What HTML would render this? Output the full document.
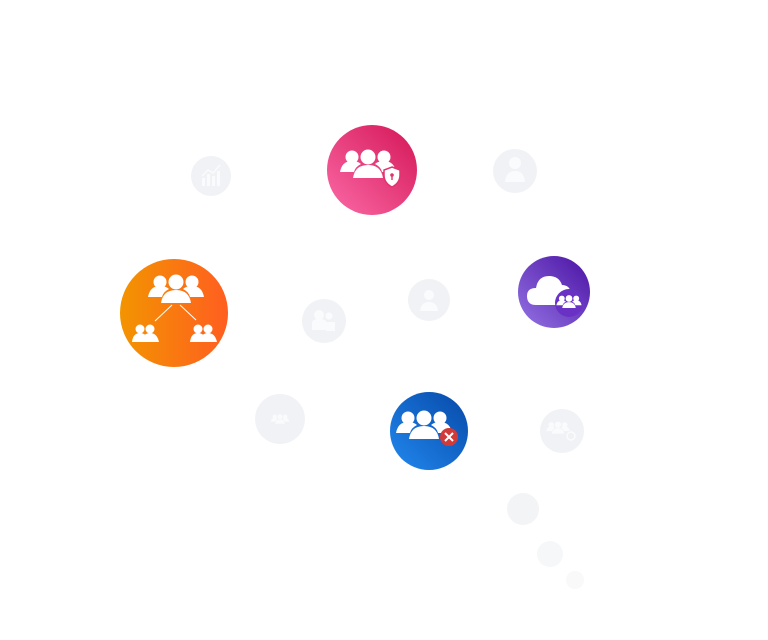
<!DOCTYPE html>
<html><head><meta charset="utf-8"><style>
html,body{margin:0;padding:0;background:#fff;width:768px;height:640px;overflow:hidden}
</style></head><body>
<svg width="768" height="640" viewBox="0 0 768 640" xmlns="http://www.w3.org/2000/svg">
<defs>
<linearGradient id="pk" x1="0" y1="1" x2="1" y2="0"><stop offset="0" stop-color="#fb6aa6"/><stop offset="1" stop-color="#d41657"/></linearGradient>
<linearGradient id="or" x1="0" y1="0.5" x2="1" y2="0.5"><stop offset="0" stop-color="#f39400"/><stop offset="1" stop-color="#ff5e20"/></linearGradient>
<linearGradient id="pu" x1="0" y1="1" x2="1" y2="0"><stop offset="0" stop-color="#9473e4"/><stop offset="1" stop-color="#4a12a3"/></linearGradient>
<linearGradient id="bl" x1="0" y1="1" x2="1" y2="0"><stop offset="0" stop-color="#2288ee"/><stop offset="1" stop-color="#0649a8"/></linearGradient>
<g id="grp">
<circle cx="-16" cy="-10" r="6.5"/><circle cx="0" cy="-10" r="7.5"/><circle cx="16" cy="-10" r="6.5"/>
<path d="M-28 5 q2 -11 12 -11 q6 0 9 3 q-6 3 -7 8z"/><path d="M28 5 q-2 -11 -12 -11 q-6 0 -9 3 q6 3 7 8z"/>
<path d="M-15 11 q2 -13 15 -13 q13 0 15 13z"/>
</g>
</defs>
<g fill="#f0f2f5">
<circle cx="211" cy="176" r="20"/><circle cx="515" cy="171" r="22"/><circle cx="324" cy="321" r="22"/>
<circle cx="429" cy="300" r="21"/><circle cx="280" cy="419" r="25"/><circle cx="562" cy="431" r="22"/>
</g>
<circle cx="523" cy="509" r="16" fill="#f3f4f6"/><circle cx="550" cy="554" r="13" fill="#f6f7f8"/><circle cx="575" cy="580" r="9" fill="#f9f9fa"/>
<g fill="#fafbfc" stroke="none">
<rect x="202" y="178" width="3" height="8"/><rect x="207" y="174" width="3" height="12"/><rect x="212" y="176" width="3" height="10"/><rect x="217" y="171" width="3" height="15"/>
<polyline points="202,176 208,170 213,173 220,165" fill="none" stroke="#fafbfc" stroke-width="1.5"/>
<circle cx="515" cy="163" r="6"/><path d="M505 182 q1 -11 10 -11 q9 0 10 11z"/>
<circle cx="429" cy="295" r="5"/><path d="M420 311 q1 -9 9 -9 q8 0 9 9z"/>
<circle cx="319" cy="315" r="5"/><circle cx="329" cy="316" r="3.5"/><path d="M312 330 v-7 q0 -4 7 -4 q5 0 7 2 v9z"/><rect x="326" y="322" width="9" height="9"/>
<g transform="translate(280,420) scale(0.33)"><use href="#grp"/></g>
<g transform="translate(558,429) scale(0.42)"><use href="#grp"/></g>
<circle cx="571" cy="436" r="4" fill="none" stroke="#fafbfc" stroke-width="1.5"/>
</g>
<circle cx="372" cy="170" r="45" fill="url(#pk)"/>
<g fill="#fff" transform="translate(368,167)"><use href="#grp"/></g>
<path d="M392 167 l8 3 v5 q0 8 -8 12 q-8 -4 -8 -12 v-5z" fill="#fff" stroke="#e2336f" stroke-width="1.5"/>
<circle cx="392" cy="175" r="1.8" fill="#e2336f"/><rect x="391.3" y="175" width="1.4" height="5" fill="#e2336f"/>
<circle cx="174" cy="313" r="54" fill="url(#or)"/>
<g fill="#fff" transform="translate(176,292)"><use href="#grp"/></g>
<line x1="172" y1="305" x2="155" y2="321" stroke="#fff" stroke-width="1"/><line x1="180" y1="305" x2="196" y2="320" stroke="#fff" stroke-width="1"/>
<g fill="#fff">
<circle cx="140" cy="329" r="4.5"/><circle cx="150" cy="329" r="4.5"/><path d="M132 342 q1 -9 8 -9 q7 0 8 9z"/><path d="M142 342 q1 -9 8 -9 q7 0 9 9z"/>
<circle cx="198" cy="329" r="4.5"/><circle cx="208" cy="329" r="4.5"/><path d="M190 342 q1 -9 8 -9 q7 0 8 9z"/><path d="M200 342 q1 -9 8 -9 q7 0 9 9z"/>
</g>
<circle cx="554" cy="292" r="36" fill="url(#pu)"/>
<path d="M536 305 q-9 0 -9 -9 q0 -8 9 -8 q2 -12 13 -12 q10 0 13 9 q7 0 9 7 l-10 13z" fill="#fff"/>
<circle cx="569" cy="303" r="14" fill="#6a32c4"/>
<g fill="#fff" transform="translate(569,303) scale(0.45)"><use href="#grp"/></g>
<circle cx="429" cy="431" r="39" fill="url(#bl)"/>
<g fill="#fff" transform="translate(424,428)"><use href="#grp"/></g>
<circle cx="449" cy="437" r="9" fill="#d23a3a"/>
<path d="M445 433 l8 8 M453 433 l-8 8" stroke="#fff" stroke-width="2"/>
</svg>
</body></html>
